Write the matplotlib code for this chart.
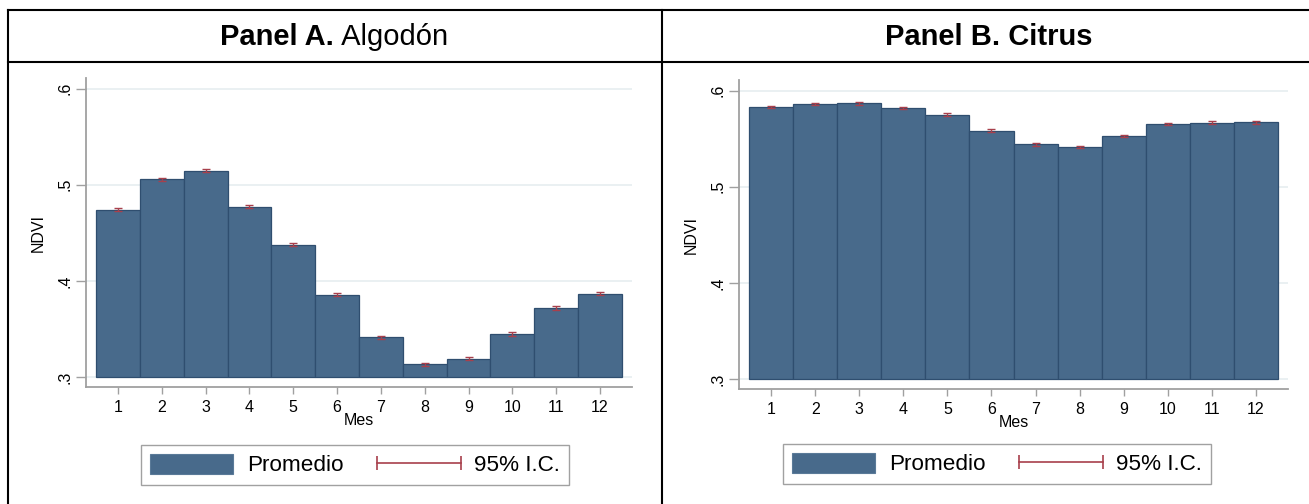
import matplotlib
matplotlib.use("Agg")
import matplotlib.pyplot as plt
from matplotlib.patches import Patch
from matplotlib.lines import Line2D
from matplotlib.legend_handler import HandlerLine2D

plt.rcParams['font.family'] = ['Liberation Sans', 'DejaVu Sans']

months = list(range(1, 13))
month_labels = [str(m) for m in months]
ndvi_algodon = [0.474, 0.5055, 0.5146, 0.477, 0.4375, 0.3854, 0.3413, 0.3132, 0.3188, 0.3445, 0.3722, 0.3868]
ci_algodon = [0.0017, 0.0017, 0.0015, 0.0016, 0.0017, 0.0015, 0.0015, 0.0014, 0.0015, 0.0018, 0.0020, 0.0017]
ndvi_citrus = [0.5829, 0.586, 0.5867, 0.5819, 0.5749, 0.5583, 0.5442, 0.5415, 0.5528, 0.5653, 0.5666, 0.567]
ci_citrus = [0.0015, 0.0014, 0.0013, 0.0013, 0.0014, 0.0014, 0.0015, 0.0013, 0.0013, 0.0014, 0.0015, 0.0016]
yticks = [0.3, 0.4, 0.5, 0.6]
ytick_labels = ['.3', '.4', '.5', '.6']

W, H = 1309, 504
fig = plt.figure(figsize=(W / 100, H / 100), dpi=100)

BAR_FACE = '#486a8b'
BAR_EDGE = '#2f4e6f'
CI_COLOR = '#a8404c'
SPINE = '#a0a0a0'
TICK_FS = 11.5


def px_rect(l, t, r, b):
    return [l / W, 1 - b / H, (r - l) / W, (b - t) / H]


def draw_panel(rect, vals, cis, legend_center):
    ax = fig.add_axes(px_rect(*rect))
    ax.set_xlim(0.27, 12.73)
    ax.set_ylim(0.2896, 0.611)
    for yv in yticks:
        ax.axhline(yv, color='#e6eef0', lw=1.2, zorder=0)
    heights = [v - 0.3 for v in vals]
    ax.bar(months, heights, bottom=0.3, width=1.0, color=BAR_FACE,
           edgecolor=BAR_EDGE, linewidth=0.9, zorder=2)
    ax.errorbar(months, vals, yerr=cis, fmt='none', ecolor=CI_COLOR,
                elinewidth=1.0, capsize=2.6, capthick=1.0, zorder=3)
    for s in ['top', 'right']:
        ax.spines[s].set_visible(False)
    for s in ['left', 'bottom']:
        ax.spines[s].set_color(SPINE)
        ax.spines[s].set_linewidth(1.3)
    ax.set_xticks(months)
    ax.set_xticklabels(month_labels, fontsize=TICK_FS)
    ax.set_yticks(yticks)
    ax.set_yticklabels(ytick_labels, fontsize=TICK_FS, rotation=90, va='center')
    ax.tick_params(axis='x', length=5, color=SPINE, width=1, pad=4)
    ax.tick_params(axis='y', length=7, color=SPINE, width=1, pad=3)
    ax.set_xlabel('Mes', fontsize=TICK_FS, labelpad=-1)
    ax.set_ylabel('NDVI', fontsize=TICK_FS, labelpad=8)
    ci_handle = Line2D([0], [0], color=CI_COLOR, lw=1.2, marker='|',
                       markersize=10, markeredgewidth=1.2)
    handles = [Patch(facecolor=BAR_FACE, edgecolor='#5a7a98', linewidth=0.8),
               ci_handle]
    leg = fig.legend(handles, ['Promedio', '95% I.C.'], loc='center',
                     bbox_to_anchor=(legend_center[0] / W, 1 - legend_center[1] / H),
                     ncol=2, fontsize=16.2, frameon=True, fancybox=False,
                     edgecolor='#8a8a8a', handlelength=3.7, handleheight=1.0,
                     handletextpad=0.6, columnspacing=1.5, numpoints=2,
                     borderpad=0.4, borderaxespad=0,
                     handler_map={ci_handle: HandlerLine2D(marker_pad=0)})
    leg.get_frame().set_linewidth(1.0)
    return ax


draw_panel((86, 78, 632, 387), ndvi_algodon, ci_algodon, (355, 465))
draw_panel((739, 80, 1288, 389), ndvi_citrus, ci_citrus, (997, 464))

# table lines
lw = 1.5
fig.add_artist(Line2D([8 / W, 1], [1 - 10 / H, 1 - 10 / H], color='black', lw=lw))
fig.add_artist(Line2D([8 / W, 1], [1 - 62 / H, 1 - 62 / H], color='black', lw=lw))
fig.add_artist(Line2D([8 / W, 8 / W], [0, 1 - 10 / H], color='black', lw=lw))
fig.add_artist(Line2D([662 / W, 662 / W], [0, 1 - 10 / H], color='black', lw=lw))

# headers
renderer = fig.canvas.get_renderer()
hy = 1 - 37 / H
hs = 21
t1 = fig.text(0, hy, 'Panel A.', fontsize=hs, fontweight='bold', va='center', ha='left')
t2 = fig.text(0, hy, '\u00a0Algodón', fontsize=hs, va='center', ha='left')
w1 = t1.get_window_extent(renderer).width
w2 = t2.get_window_extent(renderer).width
x0 = 334 - (w1 + w2) / 2
t1.set_x(x0 / W)
t2.set_x((x0 + w1) / W)
fig.text(989 / W, hy, 'Panel B. Citrus', fontsize=hs, fontweight='bold', va='center', ha='center')

fig.savefig('out.png', dpi=100)
